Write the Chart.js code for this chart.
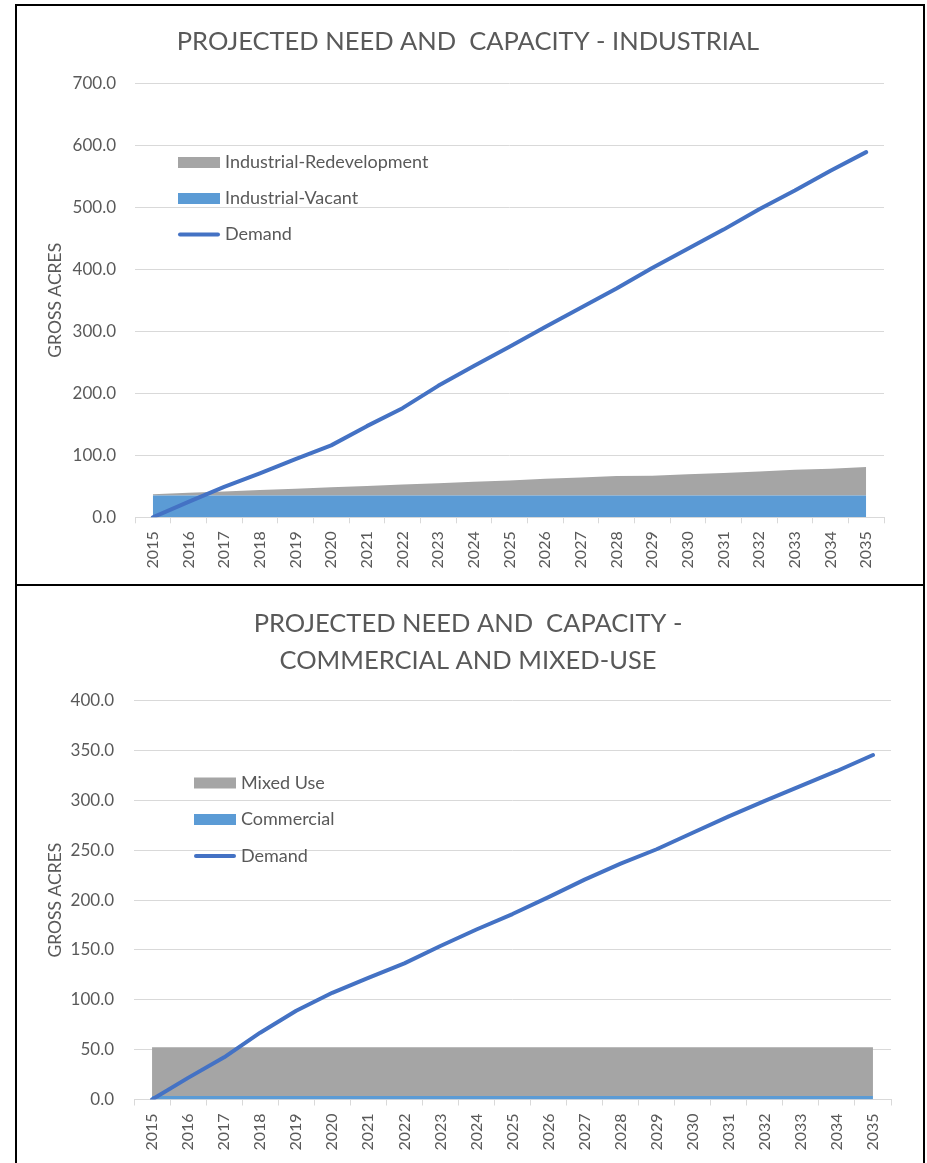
<!DOCTYPE html>
<html><head><meta charset="utf-8">
<script src="https://cdn.jsdelivr.net/npm/chart.js@4.4.1/dist/chart.umd.min.js"></script>
<style>
html,body{margin:0;padding:0;background:#fff;width:927px;height:1163px;overflow:hidden}
.box{position:absolute;left:15px;width:910px;border:2px solid #000;box-sizing:border-box;background:#fff}
#b1{top:4px;height:582px}
#b2{top:584px;height:600px}
canvas{position:absolute;left:0;top:0}
</style></head><body>
<div class="box" id="b1"><canvas id="c1" width="906" height="578" style="width:906px;height:578px"></canvas></div>
<div class="box" id="b2"><canvas id="c2" width="906" height="577" style="width:906px;height:577px"></canvas></div>
<script>
// ---- data ----
const years = ['2015','2016','2017','2018','2019','2020','2021','2022','2023','2024','2025','2026','2027','2028','2029','2030','2031','2032','2033','2034','2035'];

const indTitle = 'PROJECTED NEED AND  CAPACITY - INDUSTRIAL';
const indDemand = [0, 25, 49, 71, 94, 116, 147, 176, 212, 244, 275, 307, 338, 369, 402, 433, 464, 497, 527, 559, 589];
const indVacant = [35, 35, 35, 35, 35, 35, 35, 35, 35, 35, 35, 35, 35, 35, 35, 35, 35, 35, 35, 35, 35];
const indRedev  = [2, 4.5, 6.5, 9, 11, 13.5, 15.5, 18, 20, 22.5, 24.5, 27, 29, 31.5, 32, 34.5, 36.5, 39, 41.5, 43.5, 46];
const indTicks = {min: 0, max: 700, step: 100};

const comTitle = ['PROJECTED NEED AND  CAPACITY -', 'COMMERCIAL AND MIXED-USE'];
const comDemand = [0, 21.7, 42.3, 67, 89, 107, 122, 136.5, 154, 170.5, 186, 203, 220.5, 236.5, 251, 267.5, 284, 299.5, 314.5, 329.5, 345.5];
const comCommercial = [3.5, 3.5, 3.5, 3.5, 3.5, 3.5, 3.5, 3.5, 3.5, 3.5, 3.5, 3.5, 3.5, 3.5, 3.5, 3.5, 3.5, 3.5, 3.5, 3.5, 3.5];
const comMixed = [49, 49, 49, 49, 49, 49, 49, 49, 49, 49, 49, 49, 49, 49, 49, 49, 49, 49, 49, 49, 49];
const comTicks = {min: 0, max: 400, step: 50};

const yTitle = 'GROSS ACRES';

// ---- styles ----
const TXT = '#595959', GRID = '#d9d9d9';
const C_LINE = '#4472c4', C_BLUE = '#5b9bd5', C_GRAY = '#a5a5a5';
Chart.defaults.font.family = 'Lato';

function insetLegend(order, pos) {
  return {
    id: 'insetLegend',
    afterDraw(chart) {
      const ctx = chart.ctx;
      ctx.save();
      ctx.font = '18px Lato';
      ctx.textBaseline = 'middle';
      order.forEach((idx, i) => {
        const ds = chart.data.datasets[idx];
        const y = pos.y + i * pos.dy;
        if (ds.fill === false) {
          ctx.strokeStyle = ds.borderColor;
          ctx.lineWidth = 4;
          ctx.lineCap = 'round';
          ctx.beginPath();
          ctx.moveTo(pos.x + 2, y);
          ctx.lineTo(pos.x + pos.w - 2, y);
          ctx.stroke();
        } else {
          ctx.fillStyle = ds.backgroundColor;
          ctx.fillRect(pos.x, y - 5.5, pos.w, 11);
        }
        ctx.fillStyle = TXT;
        ctx.fillText(ds.label, pos.textX, y);
      });
      ctx.restore();
    }
  };
}

function build(id, cfg) {
  return new Chart(document.getElementById(id), {
    type: 'line',
    data: {
      labels: years,
      datasets: [
        {label: 'Demand', data: cfg.demand, borderColor: C_LINE, backgroundColor: C_LINE, borderWidth: 4,
         fill: false, pointRadius: 0, tension: 0, stack: 'demand', order: 0,
         borderCapStyle: 'round', borderJoinStyle: 'round'},
        {label: cfg.lowLabel, data: cfg.low, backgroundColor: C_BLUE, borderColor: 'rgba(0,0,0,0)', borderWidth: 0,
         fill: 'origin', pointRadius: 0, tension: 0, stack: 'cap', order: 1},
        {label: cfg.highLabel, data: cfg.high, backgroundColor: C_GRAY, borderColor: 'rgba(0,0,0,0)', borderWidth: 0,
         fill: '-1', pointRadius: 0, tension: 0, stack: 'cap', order: 2}
      ]
    },
    options: {
      responsive: false, animation: false, devicePixelRatio: 1, events: [],
      layout: {padding: {left: cfg.padL, right: cfg.padR, top: 0, bottom: 0}},
      plugins: {
        legend: {display: false},
        tooltip: {enabled: false},
        title: {display: true, text: cfg.title, color: TXT,
                font: {family: 'Lato', size: 25.5, weight: 'normal', lineHeight: 1.478},
                padding: {top: cfg.titleTop, bottom: cfg.titleBottom}}
      },
      scales: {
        x: {
          offset: true,
          grid: {display: true, offset: true, drawOnChartArea: false, drawTicks: true, tickLength: 6, color: GRID, lineWidth: 1},
          border: {display: true, color: GRID, width: 1},
          ticks: {maxRotation: 90, minRotation: 90, autoSkip: false, padding: 8, color: TXT, font: {family: 'Lato', size: 16}},
          afterFit: s => { s.height = cfg.xH; }
        },
        y: {
          stacked: true, min: cfg.ticks.min, max: cfg.ticks.max,
          ticks: {stepSize: cfg.ticks.step, padding: cfg.yPad, color: TXT, font: {family: 'Lato', size: 17},
                  callback: v => Number(v).toFixed(1)},
          grid: {color: GRID, drawTicks: false, lineWidth: 1},
          border: {display: false},
          title: {display: true, text: yTitle, color: TXT, font: {family: 'Lato', size: 17.5},
                  padding: {top: cfg.yTitlePad, bottom: 0}},
          afterFit: s => { s.width = cfg.yW; }
        }
      }
    },
    plugins: [insetLegend([2, 1, 0], cfg.legend)]
  });
}

build('c1', {
  title: indTitle, demand: indDemand, low: indVacant, high: indRedev,
  lowLabel: 'Industrial-Vacant', highLabel: 'Industrial-Redevelopment', ticks: indTicks,
  padL: 35, padR: 39, yW: 83, yPad: 19, yTitlePad: -7, xH: 66.7,
  titleTop: 16.9, titleBottom: 22.7,
  legend: {x: 161, w: 42, y: 156.5, dy: 36, textX: 208}
});

build('c2', {
  title: comTitle, demand: comDemand, low: comCommercial, high: comMixed,
  lowLabel: 'Commercial', highLabel: 'Mixed Use', ticks: comTicks,
  padL: 28, padR: 32, yW: 89, yPad: 20, yTitlePad: 0, xH: 63.5,
  titleTop: 18.5, titleBottom: 20.8,
  legend: {x: 177, w: 42, y: 197, dy: 36.5, textX: 224}
});
</script>
</body></html>
